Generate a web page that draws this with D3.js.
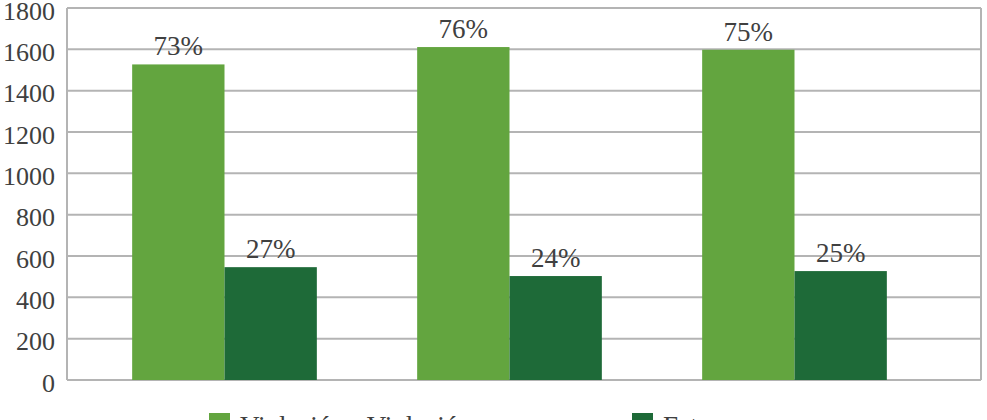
<!DOCTYPE html>
<html lang="es">
<head>
    <meta charset="UTF-8">
    <title>Violación / Estupro</title>
    <script src="https://cdn.jsdelivr.net/npm/d3@7/dist/d3.min.js"></script>
    <style>
        html, body { margin: 0; padding: 0; background: #fff; overflow: hidden; }
    </style>
</head>
<body>
<script>
    // datos
    const categories = ["Grupo 1", "Grupo 2", "Grupo 3"];
    const seriesNames = ["Violación - Violación a menores", "Estupro"];
    const violacion = [1527, 1611, 1598];
    const estupro = [546, 503, 527];
    const violacionPct = ["73%", "76%", "75%"];
    const estuproPct = ["27%", "24%", "25%"];
    const yTicks = [0, 200, 400, 600, 800, 1000, 1200, 1400, 1600, 1800];

    const width = 987, height = 420;
    const colors = ["#63a53f", "#1e6a38"];
    const textColor = "#404040";
    const font = "'Liberation Serif', 'DejaVu Serif', serif";

    const plot = {left: 67, right: 981, top: 8, bottom: 380};

    const svg = d3.select("body").append("svg")
        .attr("width", width)
        .attr("height", height)
        .style("font-family", font);

    const y = d3.scaleLinear().domain([0, 1800]).range([plot.bottom, plot.top]);

    const x0 = d3.scaleBand()
        .domain(categories)
        .range([82, 937])
        .paddingInner(0.352)
        .paddingOuter(0.176);

    const x1 = d3.scaleBand()
        .domain(seriesNames)
        .range([0, x0.bandwidth()]);

    // rejilla
    svg.append("g")
        .selectAll("line")
        .data(yTicks)
        .join("line")
        .attr("x1", plot.left)
        .attr("x2", plot.right)
        .attr("y1", d => y(d))
        .attr("y2", d => y(d))
        .attr("stroke", "#b4b4b4")
        .attr("stroke-width", 2);

    // bordes laterales
    svg.append("g")
        .selectAll("line")
        .data([plot.left, plot.right])
        .join("line")
        .attr("x1", d => d)
        .attr("x2", d => d)
        .attr("y1", plot.top)
        .attr("y2", plot.bottom)
        .attr("stroke", "#b4b4b4")
        .attr("stroke-width", 2);

    // etiquetas eje y
    svg.append("g")
        .attr("text-anchor", "end")
        .selectAll("text")
        .data(yTicks)
        .join("text")
        .attr("x", 55)
        .attr("y", d => y(d))
        .attr("dy", "0.45em")
        .attr("fill", textColor)
        .style("font-size", "26px")
        .text(d => d);

    const rows = categories.map((c, i) => ({
        cat: c,
        vals: [
            {name: seriesNames[0], value: violacion[i], label: violacionPct[i], color: colors[0]},
            {name: seriesNames[1], value: estupro[i], label: estuproPct[i], color: colors[1]}
        ]
    }));

    const groups = svg.append("g")
        .selectAll("g")
        .data(rows)
        .join("g")
        .attr("transform", d => `translate(${x0(d.cat)},0)`);

    groups.selectAll("rect")
        .data(d => d.vals)
        .join("rect")
        .attr("x", d => x1(d.name))
        .attr("width", x1.bandwidth())
        .attr("y", d => y(d.value))
        .attr("height", d => y(0) - y(d.value))
        .attr("fill", d => d.color);

    groups.selectAll("text")
        .data(d => d.vals)
        .join("text")
        .attr("x", d => x1(d.name) + x1.bandwidth() / 2)
        .attr("y", d => y(d.value) - 9)
        .attr("text-anchor", "middle")
        .attr("fill", textColor)
        .style("font-size", "27px")
        .text(d => d.label);

    // leyenda (cortada por el borde inferior, como en el original)
    const legendX = [209, 632];
    const legend = svg.append("g")
        .selectAll("g")
        .data(seriesNames)
        .join("g")
        .attr("transform", (d, i) => `translate(${legendX[i]},413)`);

    legend.append("rect")
        .attr("width", 21)
        .attr("height", 21)
        .attr("fill", (d, i) => colors[i]);

    legend.append("text")
        .attr("x", 31)
        .attr("y", 22)
        .attr("fill", textColor)
        .style("font-size", "27px")
        .text(d => d);
</script>
</body>
</html>
